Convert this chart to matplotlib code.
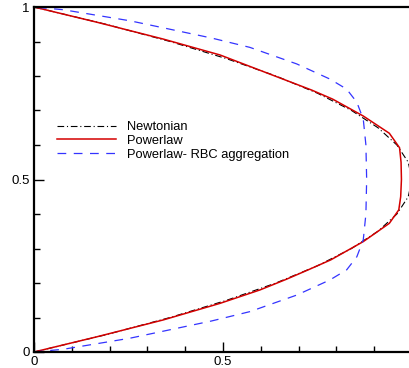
import numpy as np
import matplotlib
matplotlib.use("Agg")
import matplotlib.pyplot as plt
from matplotlib.ticker import MultipleLocator

plt.rcParams['font.family'] = ['Liberation Sans', 'DejaVu Sans']

# velocity profiles across the channel: u (x) against height (y)
y_newt = [0.0, 0.05, 0.10, 0.15, 0.20, 0.25, 0.30, 0.35, 0.40, 0.45, 0.50,
          0.55, 0.60, 0.65, 0.70, 0.75, 0.80, 0.85, 0.90, 0.95, 1.0]
u_newt = [0.0, 0.19, 0.36, 0.51, 0.64, 0.75, 0.84, 0.91, 0.96, 0.99, 1.0,
          0.99, 0.96, 0.91, 0.84, 0.75, 0.64, 0.51, 0.36, 0.19, 0.0]

y_pow = [0.0, 0.044, 0.093, 0.141, 0.180, 0.211, 0.238, 0.267, 0.320, 0.373,
         0.412, 0.45, 0.50, 0.55, 0.592, 0.634, 0.684, 0.733, 0.759, 0.798,
         0.861, 0.907, 0.956, 1.0]
u_pow = [0.0, 0.166, 0.342, 0.492, 0.598, 0.668, 0.725, 0.785, 0.871, 0.940,
         0.965, 0.970, 0.972, 0.971, 0.967, 0.940, 0.871, 0.790, 0.735, 0.642,
         0.492, 0.342, 0.166, 0.0]

y_rbc = [0.0, 0.008, 0.040, 0.090, 0.117, 0.165, 0.209, 0.238, 0.276, 0.325,
         0.40, 0.50, 0.60, 0.675, 0.724, 0.762, 0.791, 0.835, 0.883, 0.910,
         0.960, 0.992, 1.0]
u_rbc = [0.0, 0.078, 0.254, 0.470, 0.571, 0.695, 0.783, 0.827, 0.854, 0.871,
         0.878, 0.880, 0.878, 0.871, 0.854, 0.827, 0.783, 0.695, 0.571, 0.470,
         0.254, 0.078, 0.0]

fig = plt.figure(figsize=(4.09, 3.68), dpi=100)
ax = fig.add_axes([34/409, 16/368, 375/409, 345/368])

ax.plot(u_newt, y_newt, color='black', lw=0.8, dashes=(6, 2.5, 1, 2.5),
        label='Newtonian')
ax.plot(u_pow, y_pow, color='#d40000', lw=1.1, label='Powerlaw')
ax.plot(u_rbc, y_rbc, color='#3434ff', lw=0.9, dashes=(7, 6),
        label='Powerlaw- RBC aggregation')

ax.set_xlim(0, 0.992)
ax.set_ylim(0, 1)
ax.xaxis.set_major_locator(MultipleLocator(0.5))
ax.xaxis.set_minor_locator(MultipleLocator(0.1))
ax.yaxis.set_major_locator(MultipleLocator(0.5))
ax.yaxis.set_minor_locator(MultipleLocator(0.1))
ax.xaxis.set_major_formatter(plt.FuncFormatter(lambda v, p: '%g' % v))
ax.yaxis.set_major_formatter(plt.FuncFormatter(lambda v, p: '%g' % v))

ax.tick_params(which='both', direction='in', labelsize=9.5, pad=3,
               top=False, right=False, width=1)
ax.tick_params(which='major', length=7)
ax.tick_params(which='minor', length=4.5)
for s in ['left', 'bottom', 'top']:
    ax.spines[s].set_linewidth(1.6)
ax.spines['right'].set_visible(False)

fig.legend(loc='upper left', bbox_to_anchor=(57/409, 1 - 121/368),
           frameon=False, fontsize=9.3, handlelength=4.6, handletextpad=0.8,
           labelspacing=0.14, borderpad=0, borderaxespad=0)

fig.savefig('out.png', dpi=100)
